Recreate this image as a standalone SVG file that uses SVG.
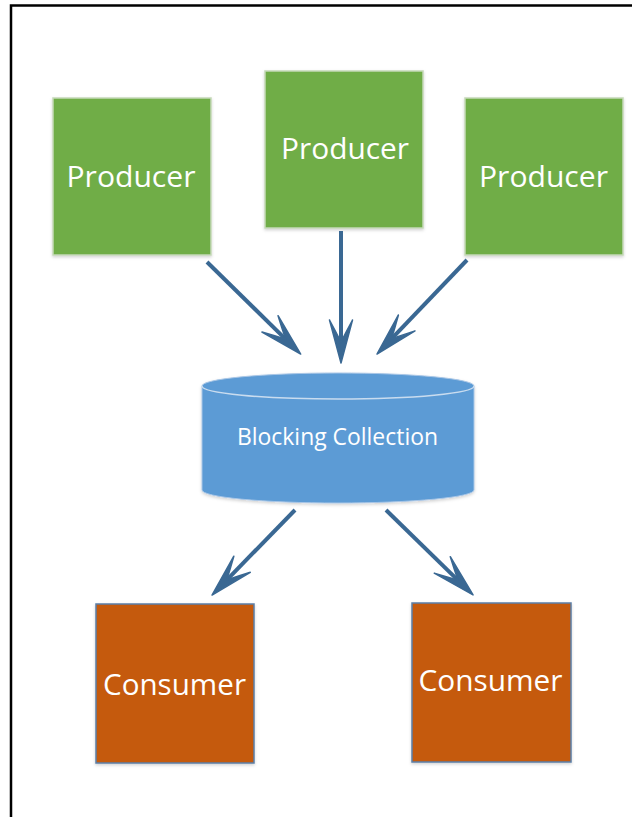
<svg xmlns="http://www.w3.org/2000/svg" width="632" height="817" viewBox="0 0 632 817">
  <style>
    .producer rect { fill: #70AD47; stroke: #C5D9B8; stroke-width: 1.5; }
    .consumer rect { fill: #C55A11; stroke: #5B7FA6; stroke-width: 1.5; }
    .lbl { font-family: "Open Sans", "Liberation Sans", sans-serif; fill: #FFFFFF; text-anchor: start; }
    .big { font-size: 29px; }
    .mid { font-size: 23px; }
    .conn line { stroke: #3A6893; stroke-width: 4; fill: none; marker-end: url(#head); }
  </style>
  <defs>
    <marker id="head" viewBox="0 0 46 26" refX="22" refY="13" markerWidth="46" markerHeight="26" markerUnits="userSpaceOnUse" orient="auto">
      <path d="M44,13 L1,1.5 Q13,8 23,13 Q13,18 1,24.5 Z" fill="#3A6893" stroke="#3A6893" stroke-width="1.5" stroke-linejoin="round"/>
    </marker>
    <filter id="sh" x="-10%" y="-10%" width="120%" height="120%">
      <feDropShadow dx="0" dy="1.5" stdDeviation="1.5" flood-color="#000" flood-opacity="0.18"/>
    </filter>
  </defs>
  <rect width="632" height="817" fill="#FFFFFF"/>
  <!-- frame -->
  <path d="M11,817 L11,5.5 L632,5.5" fill="none" stroke="#000000" stroke-width="2.5"/>

  <g id="producer-left" class="producer">
    <rect x="53" y="98" width="158" height="157" filter="url(#sh)"/>
    <text class="lbl big" x="66.5" y="187" textLength="129" lengthAdjust="spacingAndGlyphs">Producer</text>
  </g>
  <g id="producer-middle" class="producer">
    <rect x="265" y="71" width="158" height="157" filter="url(#sh)"/>
    <text class="lbl big" x="281" y="159" textLength="128" lengthAdjust="spacingAndGlyphs">Producer</text>
  </g>
  <g id="producer-right" class="producer">
    <rect x="465" y="98" width="158" height="157" filter="url(#sh)"/>
    <text class="lbl big" x="479" y="187" textLength="129" lengthAdjust="spacingAndGlyphs">Producer</text>
  </g>

  <g id="blocking-collection">
    <path d="M202,386 A136,13 0 0,1 474,386 L474,490 A136,13 0 0,1 202,490 Z" fill="#5B9BD5" stroke="#A9C6E6" stroke-width="1" filter="url(#sh)"/>
    <path d="M202,386 A136,13 0 0,0 474,386" fill="none" stroke="#C9DCEF" stroke-width="1.5"/>
    <text class="lbl mid" x="237" y="445" textLength="201" lengthAdjust="spacingAndGlyphs">Blocking Collection</text>
  </g>

  <g id="consumer-left" class="consumer">
    <rect x="96" y="604" width="158" height="159" filter="url(#sh)"/>
    <text class="lbl big" x="103" y="695" font-size="30" textLength="143" lengthAdjust="spacingAndGlyphs">Consumer</text>
  </g>
  <g id="consumer-right" class="consumer">
    <rect x="412" y="603" width="159" height="159" filter="url(#sh)"/>
    <text class="lbl big" x="418.5" y="691" font-size="30" textLength="144" lengthAdjust="spacingAndGlyphs">Consumer</text>
  </g>

  <g id="connectors" class="conn">
    <line x1="207" y1="262" x2="285" y2="338.6"/>
    <line x1="341" y1="231" x2="341" y2="341"/>
    <line x1="467" y1="260" x2="392.2" y2="338.1"/>
    <line x1="295" y1="510" x2="227.4" y2="579.3"/>
    <line x1="386" y1="510" x2="457.3" y2="579.6"/>
  </g>
</svg>
